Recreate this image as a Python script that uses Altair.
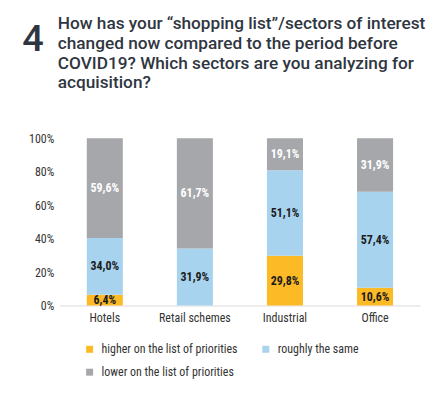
import altair as alt
import pandas as pd

sectors = ["Hotels", "Retail schemes", "Industrial", "Office"]
series = ["higher on the list of priorities", "roughly the same", "lower on the list of priorities"]
higher = [6.4, 0.0, 29.8, 10.6]
same = [34.0, 31.9, 51.1, 57.4]
lower = [59.6, 61.7, 19.1, 31.9]
colors = ["#FCBA26", "#A8D3EF", "#A6A7AA"]
label_colors = ["#1b1b1b", "#1b1b1b", "#ffffff"]
y_ticks = [0, 0.2, 0.4, 0.6, 0.8, 1.0]

title_lines = [
    "How has your \u201cshopping list\u201d/sectors of interest",
    "changed now compared to the period before",
    "COVID19? Which sectors are you analyzing for",
    "acquisition?",
]

rows = []
for i, s in enumerate(sectors):
    for k, (name, vals) in enumerate(zip(series, [higher, same, lower])):
        rows.append({"sector": s, "series": name, "order": k, "value": vals[i]})
df = pd.DataFrame(rows)

FONT = "Liberation Sans Narrow, Roboto Condensed, Roboto"

x_axis = alt.Axis(labelAngle=0, ticks=False, domainColor="#dddddd",
                  labelFontSize=12, labelColor="#333333", labelPadding=7,
                  labelFont=FONT)
y_axis = alt.Axis(values=y_ticks, format=".0%",
                  grid=False, domain=False, ticks=False, labelOverlap=False,
                  labelFlush=False,
                  labelFontSize=12, labelColor="#333333", labelPadding=6,
                  labelFont=FONT)
x_scale = alt.Scale(paddingInner=0.6, paddingOuter=0.3)
y_scale = alt.Scale(domain=[0, 1])

base = alt.Chart(df)

bars = base.mark_bar().encode(
    x=alt.X("sector:N", sort=sectors, title=None, scale=x_scale, axis=x_axis),
    y=alt.Y("value:Q", stack="normalize", title=None, scale=y_scale, axis=y_axis),
    color=alt.Color("series:N", sort=series,
                    scale=alt.Scale(domain=series, range=colors),
                    legend=alt.Legend(title=None, orient="none", legendX=24, legendY=206,
                                      values=series, direction="horizontal",
                                      columns=2, columnPadding=22, rowPadding=11,
                                      symbolType="square", symbolSize=49,
                                      symbolStrokeWidth=0, labelFontSize=12,
                                      labelColor="#333333", labelFont=FONT,
                                      labelOffset=6, labelLimit=300)),
    order=alt.Order("order:Q"),
)

labels = base.transform_filter("datum.value > 0").transform_joinaggregate(
    total="sum(value)", groupby=["sector"]
).transform_window(
    cum="sum(value)", groupby=["sector"], sort=[alt.SortField("order")],
    frame=[None, 0]
).transform_calculate(
    mid="(datum.cum - datum.value / 2) / datum.total",
    label="replace(format(datum.value, '.1f'), '.', ',') + '%'",
).mark_text(fontSize=12, fontWeight="bold", font=FONT, baseline="middle").encode(
    x=alt.X("sector:N", sort=sectors, title=None, scale=x_scale, axis=x_axis),
    y=alt.Y("mid:Q", title=None, scale=y_scale, axis=y_axis),
    text="label:N",
    color=alt.Color("series:N", scale=alt.Scale(domain=series, range=label_colors),
                    legend=None),
)

header = alt.Chart(alt.Data(values=[{}])).mark_text(
    text=title_lines, fontSize=17.3, fontWeight=500, font="Roboto", color="#2f3641",
    align="left", baseline="top", lineHeight=20
).encode(x=alt.value(-2), y=alt.value(-124))

number = alt.Chart(alt.Data(values=[{}])).mark_text(
    text="4", fontSize=38, fontWeight=500, font="Roboto", color="#2f3641",
    align="center", baseline="middle"
).encode(x=alt.value(-27), y=alt.value(-99))

chart = alt.layer(bars, labels, header, number).resolve_scale(color="independent").properties(
    width=362, height=168,
    autosize=alt.AutoSizeParams(type="none"),
    padding={"left": 52, "top": 130, "right": 20, "bottom": 80},
).configure_view(stroke=None).configure_legend(padding=0)

chart.save("out.html", embed_options={"renderer": "svg", "actions": False})
